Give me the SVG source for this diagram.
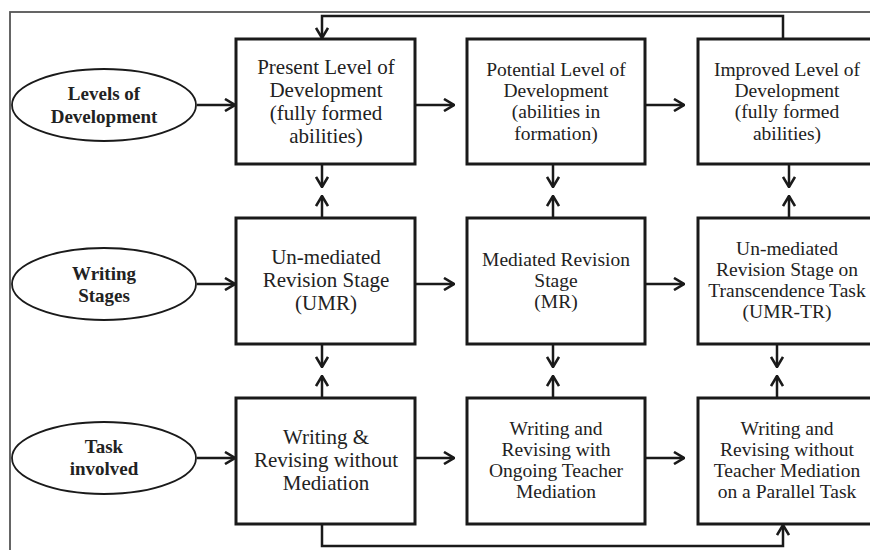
<svg xmlns="http://www.w3.org/2000/svg" width="870" height="550" viewBox="0 0 870 550">
<defs>
<style>
.box{fill:#fff;stroke:#1a1a1a;stroke-width:3}
.ell{fill:#fff;stroke:#1a1a1a;stroke-width:1.8}
.t{font-family:"Liberation Serif","Times New Roman",serif;fill:#222;text-anchor:middle}
.t1{font-size:21px}
.t2{font-size:19.5px}
.tb{font-size:19px;font-weight:bold}
.c{fill:none;stroke:#1a1a1a;stroke-width:2.5}
</style>
<marker id="ah" viewBox="0 0 12 14" refX="11" refY="7" markerWidth="12" markerHeight="14" markerUnits="userSpaceOnUse" orient="auto">
<path d="M1,1 L11,7 L1,13" fill="none" stroke="#1a1a1a" stroke-width="2.6"/>
</marker>
</defs>
<rect width="870" height="550" fill="#fff"/>
<rect x="10" y="12" width="880" height="560" fill="none" stroke="#555" stroke-width="1.8"/>

<g id="connectors">
<path class="c" d="M783,39 V16 H322 V38" marker-end="url(#ah)"/>
<path class="c" d="M322,524 V546 H783 V525" marker-end="url(#ah)"/>
<line class="c" x1="197" y1="105" x2="235" y2="105" marker-end="url(#ah)"/>
<line class="c" x1="197" y1="284" x2="235" y2="284" marker-end="url(#ah)"/>
<line class="c" x1="197" y1="458" x2="235" y2="458" marker-end="url(#ah)"/>
<line class="c" x1="415" y1="105" x2="454" y2="105" marker-end="url(#ah)"/>
<line class="c" x1="645" y1="105" x2="684" y2="105" marker-end="url(#ah)"/>
<line class="c" x1="415" y1="284" x2="454" y2="284" marker-end="url(#ah)"/>
<line class="c" x1="645" y1="284" x2="684" y2="284" marker-end="url(#ah)"/>
<line class="c" x1="415" y1="458" x2="454" y2="458" marker-end="url(#ah)"/>
<line class="c" x1="645" y1="458" x2="684" y2="458" marker-end="url(#ah)"/>
<line class="c" x1="322" y1="164" x2="322" y2="187" marker-end="url(#ah)"/>
<line class="c" x1="322" y1="218" x2="322" y2="196" marker-end="url(#ah)"/>
<line class="c" x1="322" y1="344" x2="322" y2="367" marker-end="url(#ah)"/>
<line class="c" x1="322" y1="398" x2="322" y2="376" marker-end="url(#ah)"/>
<line class="c" x1="553" y1="164" x2="553" y2="187" marker-end="url(#ah)"/>
<line class="c" x1="553" y1="218" x2="553" y2="196" marker-end="url(#ah)"/>
<line class="c" x1="553" y1="344" x2="553" y2="367" marker-end="url(#ah)"/>
<line class="c" x1="553" y1="398" x2="553" y2="376" marker-end="url(#ah)"/>
<line class="c" x1="789" y1="164" x2="789" y2="187" marker-end="url(#ah)"/>
<line class="c" x1="789" y1="218" x2="789" y2="196" marker-end="url(#ah)"/>
<line class="c" x1="777" y1="344" x2="777" y2="367" marker-end="url(#ah)"/>
<line class="c" x1="777" y1="398" x2="777" y2="376" marker-end="url(#ah)"/>
</g>

<g id="levels">
<ellipse class="ell" cx="104" cy="105" rx="92" ry="36"/>
<text class="t tb" x="104" y="100">Levels of</text>
<text class="t tb" x="104" y="123">Development</text>
</g>
<g id="stages">
<ellipse class="ell" cx="104" cy="284" rx="92" ry="36"/>
<text class="t tb" x="104" y="280">Writing</text>
<text class="t tb" x="104" y="302">Stages</text>
</g>
<g id="task">
<ellipse class="ell" cx="104" cy="458" rx="92" ry="36"/>
<text class="t tb" x="104" y="453">Task</text>
<text class="t tb" x="104" y="475">involved</text>
</g>

<g id="present">
<rect class="box" x="236" y="39" width="179" height="125"/>
<text class="t t1" x="326" y="74">Present Level of</text>
<text class="t t1" x="326" y="97">Development</text>
<text class="t t1" x="326" y="120">(fully formed</text>
<text class="t t1" x="326" y="143">abilities)</text>
</g>
<g id="potential">
<rect class="box" x="467" y="39" width="178" height="125"/>
<text class="t t2" x="556" y="76">Potential Level of</text>
<text class="t t2" x="556" y="97">Development</text>
<text class="t t2" x="556" y="118">(abilities in</text>
<text class="t t2" x="556" y="140">formation)</text>
</g>
<g id="improved">
<rect class="box" x="698" y="39" width="178" height="125"/>
<text class="t t2" x="787" y="76">Improved Level of</text>
<text class="t t2" x="787" y="97">Development</text>
<text class="t t2" x="787" y="118">(fully formed</text>
<text class="t t2" x="787" y="140">abilities)</text>
</g>

<g id="umr">
<rect class="box" x="236" y="218" width="179" height="126"/>
<text class="t t1" x="326" y="264">Un-mediated</text>
<text class="t t1" x="326" y="287">Revision Stage</text>
<text class="t t1" x="326" y="310">(UMR)</text>
</g>
<g id="mr">
<rect class="box" x="467" y="218" width="178" height="126"/>
<text class="t t2" x="556" y="266">Mediated Revision</text>
<text class="t t2" x="556" y="287">Stage</text>
<text class="t t2" x="556" y="308">(MR)</text>
</g>
<g id="umrtr">
<rect class="box" x="698" y="218" width="178" height="126"/>
<text class="t t2" x="787" y="255">Un-mediated</text>
<text class="t t2" x="787" y="276">Revision Stage on</text>
<text class="t t2" x="787" y="297">Transcendence Task</text>
<text class="t t2" x="787" y="318">(UMR-TR)</text>
</g>

<g id="task1">
<rect class="box" x="236" y="398" width="179" height="126"/>
<text class="t t1" x="326" y="444">Writing &amp;</text>
<text class="t t1" x="326" y="467">Revising without</text>
<text class="t t1" x="326" y="490">Mediation</text>
</g>
<g id="task2">
<rect class="box" x="467" y="398" width="178" height="126"/>
<text class="t t2" x="556" y="435">Writing and</text>
<text class="t t2" x="556" y="456">Revising with</text>
<text class="t t2" x="556" y="477">Ongoing Teacher</text>
<text class="t t2" x="556" y="498">Mediation</text>
</g>
<g id="task3">
<rect class="box" x="698" y="398" width="178" height="126"/>
<text class="t t2" x="787" y="435">Writing and</text>
<text class="t t2" x="787" y="456">Revising without</text>
<text class="t t2" x="787" y="477">Teacher Mediation</text>
<text class="t t2" x="787" y="498">on a Parallel Task</text>
</g>
</svg>
